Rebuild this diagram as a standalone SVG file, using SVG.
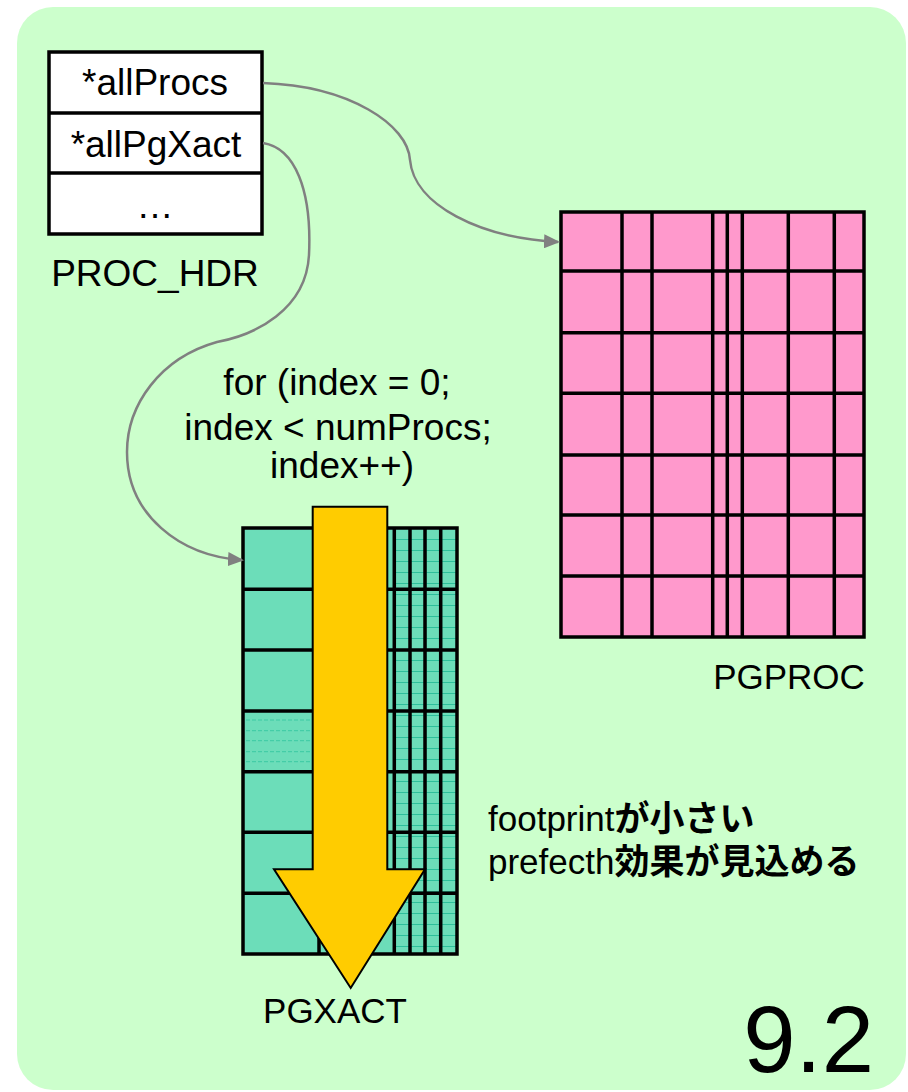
<svg xmlns="http://www.w3.org/2000/svg" width="908" height="1092" viewBox="0 0 908 1092">
<style>
.t{font-family:"Liberation Sans",Arial,sans-serif;font-size:35px;fill:#000}
.w{font-size:37px}
.j{font-family:"Liberation Sans","Noto Sans CJK JP",sans-serif;font-size:35px;fill:#000}
.b{font-family:"Noto Sans CJK JP",sans-serif;font-weight:bold;font-size:35px}
.conn{fill:none;stroke:#808080;stroke-width:2.5}
.g{stroke:#000;stroke-width:3.5;fill:none}
</style>
<defs>
<marker id="ah" markerWidth="16" markerHeight="14" refX="14" refY="7" orient="auto" markerUnits="userSpaceOnUse">
<path d="M0,0 L16,7 L0,14 Z" fill="#808080"/>
</marker>
<pattern id="plaid" x="387" y="528" width="15.5" height="11" patternUnits="userSpaceOnUse">
<rect width="15.5" height="11" fill="#6CDDB9"/>
<path d="M0,0.5 H15.5 M8,0 V11" stroke="#2EBF9B" stroke-width="1" fill="none"/>
</pattern>
</defs>
<rect x="17" y="7" width="889" height="1083" rx="36" fill="#CCFFCC"/>

<g id="proc_hdr">
<rect x="49" y="52" width="213" height="182" fill="#fff" stroke="#000" stroke-width="3.5"/>
<line x1="49" y1="113" x2="262" y2="113" stroke="#000" stroke-width="3.5"/>
<line x1="49" y1="173" x2="262" y2="173" stroke="#000" stroke-width="3.5"/>
<text class="t w" x="155" y="95" text-anchor="middle">*allProcs</text>
<text class="t w" x="156" y="157" text-anchor="middle">*allPgXact</text>
<text class="t w" x="155" y="218" text-anchor="middle">…</text>
<text class="t w" x="155" y="286" text-anchor="middle">PROC_HDR</text>
</g>

<g id="pgproc">
<rect x="561" y="212" width="303" height="425" fill="#FF99CC"/>
<path class="g" d="M622,212V637 M652,212V637 M712.7,212V637 M727.3,212V637 M742.3,212V637 M788.3,212V637 M834.3,212V637"/>
<path class="g" stroke-width="4" d="M561,271H864 M561,332.7H864 M561,393.3H864 M561,455H864 M561,515H864 M561,576H864"/>
<rect x="561" y="212" width="303" height="425" class="g"/>
<text class="t" x="789" y="689" text-anchor="middle">PGPROC</text>
</g>

<g id="pgxact">
<rect x="243" y="528" width="214" height="426" fill="#6CDDB9"/>
<rect x="394" y="528" width="62" height="426" fill="url(#plaid)"/>
<path stroke="#3CC9A3" stroke-width="1" stroke-dasharray="4,2" fill="none" d="M246,720H312 M246,730.7H312 M246,740.7H312 M246,751.7H312 M246,761.7H312"/>
<path class="g" d="M319,528V954 M394.3,528V954 M410,528V954 M425,528V954 M440.7,528V954"/>
<path class="g" stroke-width="4" d="M243,589.3H457 M243,650H457 M243,711H457 M243,771.7H457 M243,832.3H457 M243,893.3H457"/>
<rect x="243" y="528" width="214" height="426" class="g"/>
<text class="t" x="335" y="1023" text-anchor="middle">PGXACT</text>
</g>

<g id="loop_arrow">
<path d="M312.7,506.7 H387.3 V869.3 H425 L350.7,988 L274,869.3 H312.7 Z" fill="#FFCC00" stroke="#000" stroke-width="2"/>
</g>

<g id="loop_label">
<text class="t w" x="337" y="395" text-anchor="middle">for (index = 0;</text>
<text class="t w" x="338" y="440" text-anchor="middle">index &lt; numProcs;</text>
<text class="t w" x="342" y="478" text-anchor="middle">index++)</text>
</g>

<g id="note">
<text class="j" x="488" y="831">footprint<tspan class="b">が小さい</tspan></text>
<text class="j" x="488" y="874">prefecth<tspan class="b">効果が見込める</tspan></text>
</g>

<g id="version">
<text class="t" x="874" y="1072" text-anchor="end" style="font-size:94px">9.2</text>
</g>

<g id="connectors">
<path class="conn" marker-end="url(#ah)" d="M263,83 C350,86 408,125 410,160 C414,205 480,238 558,242"/>
<path class="conn" marker-end="url(#ah)" d="M263,143 C295,148 312,190 309,255 C306,310 255,335 217,342 C160,358 127,405 127,452 C127,515 180,556 242,560"/>
</g>
</svg>
